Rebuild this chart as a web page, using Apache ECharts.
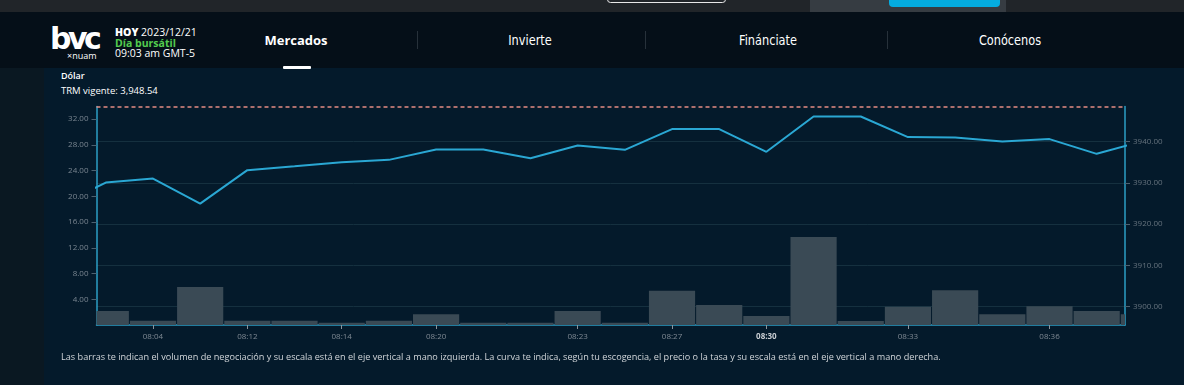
<!DOCTYPE html>
<html>
<head>
<meta charset="utf-8">
<script src="https://cdn.jsdelivr.net/npm/echarts@6/dist/echarts.min.js"></script>
<style>
  html, body { margin: 0; padding: 0; width: 1184px; height: 385px; overflow: hidden; background: #041a2b; font-family: "Open Sans", "Noto Sans", sans-serif; }
  .abs { position: absolute; }
  #topstrip { left: 0; top: 0; width: 1184px; height: 12px; background: #212529; }
  #btn1 { left: 607px; top: -4px; width: 119px; height: 7px; border: 1px solid #e8e8e8; border-radius: 4px; box-sizing: border-box; }
  #gray { left: 810px; top: 0; width: 196px; height: 12px; background: #363c42; }
  #btn2 { left: 889px; top: -4px; width: 111px; height: 11px; background: #04ace0; border-radius: 4px; }
  #header { left: 0; top: 12px; width: 1184px; height: 56px; background: #050f18; }
  #leftstrip { left: 0; top: 68px; width: 44px; height: 317px; background: #0a1822; }
  #panel { left: 44px; top: 68px; width: 1140px; height: 317px; background: #041a2b; }
  #logo { left: 50px; top: 22px; color: #fff; font-family: "DejaVu Sans", sans-serif; font-weight: bold; font-size: 30px; letter-spacing: -3.5px; line-height: 34px; }
  #nuam { left: 67px; top: 50px; color: #fff; font-size: 9px; line-height: 11px; }
  #date { left: 115px; top: 27px; color: #fff; font-size: 10.5px; line-height: 10.7px; }
  #date b { font-weight: 800; }
  #date .g { color: #53cc4f; font-weight: bold; }
  .nav { top: 31px; color: #fff; font-family: "Liberation Sans Narrow", "DejaVu Sans Condensed", sans-serif; font-size: 14px; line-height: 18px; transform: translateX(-50%) scaleX(0.9); white-space: nowrap; }
  #m { font-family: "Open Sans", sans-serif; font-weight: bold; font-size: 13px; transform: translateX(-50%); }
  #uline { left: 283px; top: 66px; width: 28px; height: 3px; background: #fff; border-radius: 1px; }
  .sep { top: 31px; width: 1px; height: 18px; background: #27313a; }
  #dolar { left: 61px; top: 70px; color: #fff; font-size: 9px; font-weight: 600; line-height: 11px; }
  #trm { left: 61px; top: 85px; color: #fff; font-size: 9.5px; line-height: 11px; }
  #note { left: 61px; top: 351px; color: #d2d6da; font-size: 9.15px; line-height: 12px; white-space: nowrap; }
  #chart { left: 0; top: 0; width: 1184px; height: 385px; }
</style>
</head>
<body>
<div id="topstrip" class="abs"></div>
<div id="btn1" class="abs"></div>
<div id="gray" class="abs"></div>
<div id="btn2" class="abs"></div>
<div id="header" class="abs"></div>
<div id="leftstrip" class="abs"></div>
<div id="panel" class="abs"></div>
<div id="logo" class="abs">bvc</div>
<div id="nuam" class="abs">×nuam</div>
<div id="date" class="abs"><b>HOY</b> 2023/12/21<br><span class="g">Día bursátil</span><br>09:03 am GMT-5</div>
<div id="m" class="abs nav" style="left:296px">Mercados</div>
<div id="uline" class="abs"></div>
<div class="abs sep" style="left:417px"></div>
<div class="abs nav" style="left:530px">Invierte</div>
<div class="abs sep" style="left:645px"></div>
<div class="abs nav" style="left:768px">Finánciate</div>
<div class="abs sep" style="left:887px"></div>
<div class="abs nav" style="left:1010px">Conócenos</div>
<div id="dolar" class="abs">Dólar</div>
<div id="trm" class="abs">TRM vigente: 3,948.54</div>
<div id="chart" class="abs"></div>
<div id="note" class="abs">Las barras te indican el volumen de negociación y su escala está en el eje vertical a mano izquierda. La curva te indica, según tu escogencia, el precio o la tasa y su escala está en el eje vertical a mano derecha.</div>
<script>
// ---- data ----
const timeLabels = ['', '', '08:04', '', '08:12', '', '08:14', '', '08:20', '', '', '08:23', '', '08:27', '', '08:30', '', '', '08:33', '', '', '08:36', '', ''];
const volumes = [null, 2.18, 0.67, 5.91, 0.67, 0.67, 0.36, 0.67, 1.66, 0.36, 0.36, 2.18, 0.36, 5.33, 3.11, 1.40, 13.69, 0.62, 2.85, 5.40, 1.66, 2.91, 2.18, 1.66];
const prices = [3924.44, 3930.10, 3931.07, 3925.00, 3933.10, 3934.03, 3935.00, 3935.60, 3938.10, 3938.10, 3936.00, 3939.08, 3938.03, 3943.06, 3943.06, 3937.55, 3946.12, 3946.12, 3941.12, 3941.02, 3940.05, 3940.63, 3937.06, 3940.20];
const volumeTicks = [4, 8, 12, 16, 20, 24, 28, 32];
const priceTicks = [3900, 3910, 3920, 3930, 3940];
const trmValue = 3948.54;
const strongLabel = '08:30';

const labelIdx = timeLabels.map((t, i) => t ? i : -1).filter(i => i >= 0);
const cyan = '#2b9fc6';

function renderBar(params, api) {
  const v = api.value(1);
  if (v == null || isNaN(v)) return null;
  const x = api.value(0);
  const base = api.coord([x, 0]);
  const top = api.coord([x, v]);
  const w = api.size([1, 0])[0] - 1;
  const cs = params.coordSys;
  const shape = echarts.graphic.clipRectByRect(
    { x: base[0] - w / 2, y: top[1], width: w, height: base[1] - top[1] },
    { x: cs.x, y: cs.y, width: cs.width, height: cs.height }
  );
  return shape ? { type: 'rect', shape: shape, style: { fill: '#3a4a55' } } : null;
}

const chart = echarts.init(document.getElementById('chart'), null, { renderer: 'canvas' });
chart.setOption({
  backgroundColor: 'transparent',
  animation: false,
  grid: { left: 96.5, right: 59, top: 106.5, bottom: 60, containLabel: false },
  xAxis: {
    type: 'value', min: 0.803, max: 22.6,
    axisLine: { show: true, onZero: false, lineStyle: { color: cyan, width: 1.5 } },
    axisTick: { show: true, customValues: labelIdx, length: 4, lineStyle: { color: '#8a949c' } },
    splitLine: { show: false },
    axisLabel: {
      customValues: labelIdx, margin: 8, color: '#7f8993', fontSize: 8, fontFamily: 'Open Sans',
      formatter: v => { const t = timeLabels[Math.round(v)] || ''; return t === strongLabel ? '{s|' + t + '}' : t; },
      rich: { s: { color: '#c9ced3', fontWeight: 'bold', fontSize: 8, fontFamily: 'Open Sans' } }
    }
  },
  yAxis: [
    {
      type: 'value', min: 0, max: 33.95, position: 'left',
      axisLine: { show: true, lineStyle: { color: cyan, width: 1.5 } },
      axisTick: { show: true, customValues: volumeTicks, length: 5, lineStyle: { color: '#4d6170' } },
      splitLine: { show: false },
      axisLabel: { customValues: volumeTicks, margin: 8, color: '#7a8691', fontSize: 8, fontFamily: 'Open Sans', formatter: v => v.toFixed(2) }
    },
    {
      type: 'value', min: 3895.55, max: trmValue, position: 'right',
      axisLine: { show: true, lineStyle: { color: cyan, width: 1.5 } },
      axisTick: { show: true, customValues: priceTicks, length: 5, lineStyle: { color: '#4d6170' } },
      splitLine: { show: true, lineStyle: { color: '#15303f', width: 1 } },
      axisLabel: { customValues: priceTicks, margin: 8, color: '#66737e', fontSize: 8, fontFamily: 'Open Sans', formatter: v => v.toFixed(2) }
    }
  ],
  series: [
    {
      type: 'custom', yAxisIndex: 0, clip: true,
      renderItem: renderBar,
      encode: { x: 0, y: 1 },
      data: volumes.map((v, i) => [i, v])
    },
    {
      type: 'line', yAxisIndex: 1, clip: true, symbol: 'none',
      data: prices.map((v, i) => [i, v]),
      lineStyle: { color: '#2aa7d3', width: 2 },
      markLine: {
        silent: true, symbol: 'none', label: { show: false },
        lineStyle: { color: '#e58c84', type: [4, 3], width: 1.5 },
        data: [{ yAxis: trmValue }]
      }
    }
  ]
});
</script>
</body>
</html>
